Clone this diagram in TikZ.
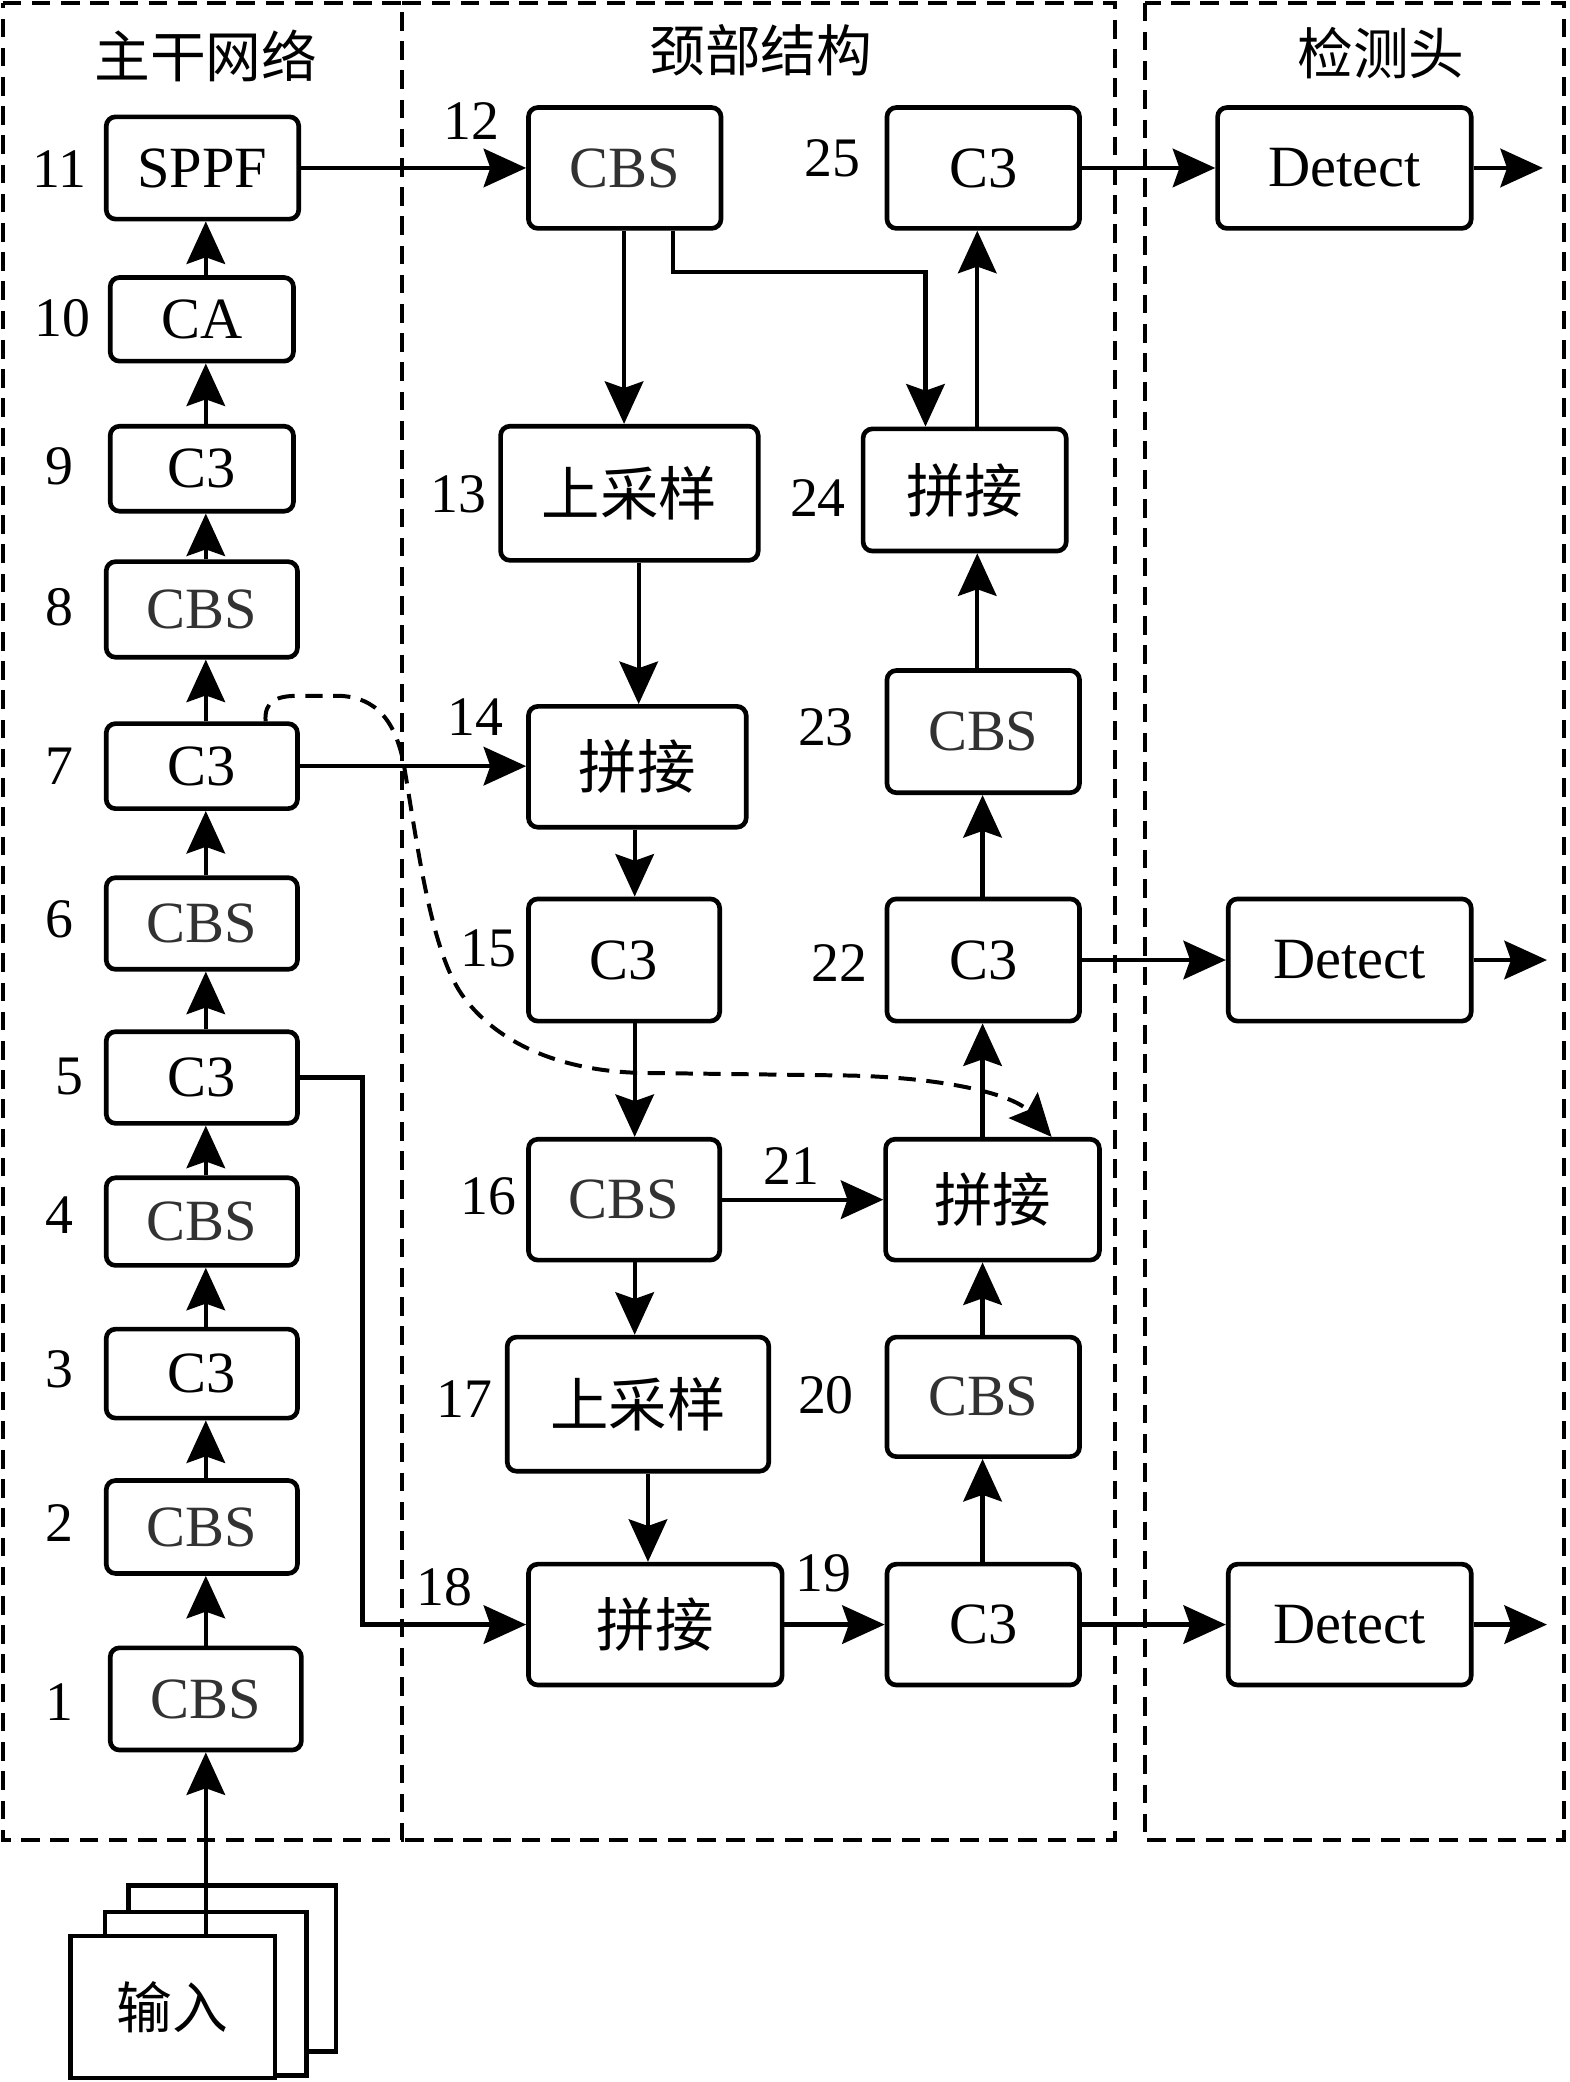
\documentclass[tikz,border=0pt]{standalone}
\usepackage{fontspec}
\setmainfont{Liberation Serif}
\newfontfamily\cjk{Noto Sans CJK SC}
\usetikzlibrary{arrows.meta}
\definecolor{cbsgray}{RGB}{50,50,50}
\newcommand\cbs{\textcolor{cbsgray}{CBS}}
\newcommand\mybox[6]{\node[blk, minimum width={(#4-#2)*1pt}, minimum height={(#5-#3)*1pt}] (#1) at ({(#2+#4)/2},{(#3+#5)/2}) {#6};}
\begin{document}
\begin{tikzpicture}[x=1pt,y=-1pt,
 blk/.style={draw, line width=3.5pt, rounded corners=7pt, inner sep=0pt, fill=white, font=\fontsize{44}{48}\selectfont},
 num/.style={font=\fontsize{42}{46}\selectfont, inner sep=0pt},
 ttl/.style={font=\cjk\fontsize{42}{46}\selectfont, inner sep=0pt},
 arr/.style={line width=3.2pt, -{Stealth[length=32pt,width=29pt,inset=5pt]}},
 frame/.style={line width=3pt, dash pattern=on 14pt off 8pt},
 dcurve/.style={line width=3pt, dash pattern=on 13pt off 8pt, -{Stealth[length=32pt,width=29pt,inset=5pt]}},
 inbox/.style={draw, line width=3.5pt, fill=white, inner sep=0pt},
]
\useasboundingbox (0,0) rectangle (1182,1568);
% frames
\draw[frame] (2,2) -- (303,2) -- (303,1386) -- (2,1386) -- cycle;
\draw[frame] (303,2) -- (840,2) -- (840,1386) -- (303,1386);
\draw[frame] (862,2) rectangle (1178,1386);
% titles
\node[ttl] (t1) at (155,42) {主干网络};
\node[ttl] (t2) at (573,38) {颈部结构};
\node[ttl] (t3) at (1040,40) {检测头};
% backbone
\mybox{b11}{80}{88}{225}{165}{SPPF}
\mybox{b10}{83}{209}{221}{272}{CA}
\mybox{b9}{83}{321}{221}{385}{C3}
\mybox{b8}{80}{423}{224}{495}{\cbs}
\mybox{b7}{80}{545}{224}{609}{C3}
\mybox{b6}{80}{661}{224}{730}{\cbs}
\mybox{b5}{80}{777}{224}{846}{C3}
\mybox{b4}{80}{887}{224}{953}{\cbs}
\mybox{b3}{80}{1001}{224}{1068}{C3}
\mybox{b2}{80}{1115}{224}{1185}{\cbs}
\mybox{b1}{83}{1241}{227}{1318}{\cbs}
% neck
\mybox{b12}{398}{81}{543}{172}{\cbs}
\mybox{b13}{377}{321}{571}{422}{\cjk 上采样}
\mybox{b14}{398}{532}{562}{623}{\cjk 拼接}
\mybox{b15}{398}{677}{542}{769}{C3}
\mybox{b16}{398}{858}{542}{949}{\cbs}
\mybox{b17}{382}{1007}{579}{1108}{\cjk 上采样}
\mybox{b18}{398}{1178}{589}{1269}{\cjk 拼接}
\mybox{b19}{668}{1178}{813}{1269}{C3}
\mybox{b20}{668}{1007}{813}{1097}{\cbs}
\mybox{b21}{667}{858}{828}{949}{\cjk 拼接}
\mybox{b22}{668}{677}{813}{769}{C3}
\mybox{b23}{668}{505}{813}{597}{\cbs}
\mybox{b24}{650}{323}{803}{415}{\cjk 拼接}
\mybox{b25}{668}{81}{813}{172}{C3}
% heads
\mybox{d1}{917}{81}{1108}{172}{Detect}
\mybox{d2}{925}{677}{1108}{769}{Detect}
\mybox{d3}{925}{1178}{1108}{1269}{Detect}
% numbers
\node[num] (n11) at (45,127) {11};
\node[num] (n10) at (47,240) {10};
\node[num] (n9) at (45,351) {9};
\node[num] (n8) at (45,457) {8};
\node[num] (n7) at (45,577) {7};
\node[num] (n6) at (45,692) {6};
\node[num] (n5) at (52,811) {5};
\node[num] (n4) at (45,915) {4};
\node[num] (n3) at (45,1031) {3};
\node[num] (n2) at (45,1147) {2};
\node[num] (n1) at (45,1282) {1};
\node[num] (n12) at (355,91) {12};
\node[num] (n13) at (345,372) {13};
\node[num] (n14) at (358,540) {14};
\node[num] (n15) at (368,714) {15};
\node[num] (n16) at (368,901) {16};
\node[num] (n17) at (350,1054) {17};
\node[num] (n18) at (335,1195) {18};
\node[num] (n19) at (620,1185) {19};
\node[num] (n20) at (622,1051) {20};
\node[num] (n21) at (596,878) {21};
\node[num] (n22) at (632,725) {22};
\node[num] (n23) at (622,548) {23};
\node[num] (n24) at (616,375) {24};
\node[num] (n25) at (627,119) {25};
% input stack
\node[inbox, minimum width=156pt, minimum height=125pt] (in3) at (175,1482.5) {};
\node[inbox, minimum width=152pt, minimum height=123pt] (in2) at (155,1501.5) {};
\node[inbox, minimum width=154pt, minimum height=107pt, font=\cjk\fontsize{42}{46}\selectfont] (inp) at (130,1511.5) {输入};
% backbone arrows
\draw[arr] (b1.south |- inp.north) -- (b1.south);
\draw[arr] (b1.north -| 155,0) -- (b2.south -| 155,0);
\draw[arr] (b2.north -| 155,0) -- (b3.south -| 155,0);
\draw[arr] (b3.north -| 155,0) -- (b4.south -| 155,0);
\draw[arr] (b4.north -| 155,0) -- (b5.south -| 155,0);
\draw[arr] (b5.north -| 155,0) -- (b6.south -| 155,0);
\draw[arr] (b6.north -| 155,0) -- (b7.south -| 155,0);
\draw[arr] (b7.north -| 155,0) -- (b8.south -| 155,0);
\draw[arr] (b8.north -| 155,0) -- (b9.south -| 155,0);
\draw[arr] (b9.north -| 155,0) -- (b10.south -| 155,0);
\draw[arr] (b10.north -| 155,0) -- (b11.south -| 155,0);
% cross connections
\draw[arr] (b11.east) -- (b12.west);
\draw[arr] (b7.east) -- (b14.west |- b7.east);
\draw[arr] (b5.east) -- (273,811.5) -- (273,1223.5) -- (b18.west);
% neck vertical
\draw[arr] (b12.south -| 470,0) -- (b13.north -| 470,0);
\draw[arr] (b12.south -| 507,0) -- (507,205) -- (697,205) -- (b24.north -| 697,0);
\draw[arr] (b13.south -| 481,0) -- (b14.north -| 481,0);
\draw[arr] (b14.south -| 478,0) -- (b15.north -| 478,0);
\draw[arr] (b15.south -| 478,0) -- (b16.north -| 478,0);
\draw[arr] (b16.south -| 478,0) -- (b17.north -| 478,0);
\draw[arr] (b17.south -| 488,0) -- (b18.north -| 488,0);
\draw[arr] (b18.east) -- (b19.west);
\draw[arr] (b16.east) -- (b21.west);
\draw[arr] (b19.north -| 740,0) -- (b20.south -| 740,0);
\draw[arr] (b20.north -| 740,0) -- (b21.south -| 740,0);
\draw[arr] (b21.north -| 740,0) -- (b22.south -| 740,0);
\draw[arr] (b22.north -| 740,0) -- (b23.south -| 740,0);
\draw[arr] (b23.north -| 736,0) -- (b24.south -| 736,0);
\draw[arr] (b24.north -| 736,0) -- (b25.south -| 736,0);
% dashed curve
\coordinate (cs) at (b7.north -| 200,0);
\coordinate (ce) at (b21.north -| 792,0);
\draw[dcurve] (cs) .. controls (199,528) and (208,524) .. (225,524) -- (255,524)
  .. controls (285,525) and (298,545) .. (304,575)
  .. controls (315,640) and (325,720) .. (350,752)
  .. controls (375,785) and (420,806) .. (481,808) -- (640,810)
  .. controls (720,812) and (765,826) .. (ce);
% heads
\draw[arr] (b25.east) -- (d1.west);
\draw[arr] (b22.east) -- (d2.west);
\draw[arr] (b19.east) -- (d3.west);
\coordinate (o1) at (1162,126.5);
\coordinate (o2) at (1165,723);
\coordinate (o3) at (1165,1223.5);
\draw[arr] (d1.east) -- (o1);
\draw[arr] (d2.east) -- (o2);
\draw[arr] (d3.east) -- (o3);
\end{tikzpicture}
\end{document}
